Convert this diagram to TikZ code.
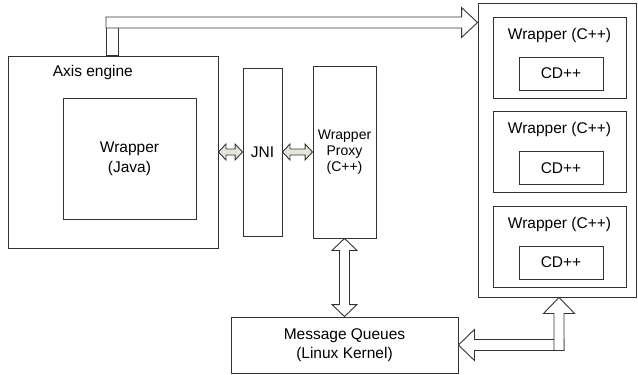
\documentclass[tikz,border=0pt]{standalone}
\usepackage{fontspec}
\setmainfont{Liberation Sans}
\usetikzlibrary{calc}

\definecolor{linkfill}{HTML}{E4E8DA}

\tikzset{
  box/.style={draw=black!80, line width=0.9pt, inner sep=0pt, align=center},
  arrowline/.style={draw=black!80, line width=0.9pt, line join=miter},
  fat arrow/.style n args={3}{to path={
    ($(\tikztostart)!#1!90:(\tikztotarget)$)
    -- ($(\tikztotarget)!#3!(\tikztostart)!#1!90:(\tikztotarget)$)
    -- ($(\tikztotarget)!#3!(\tikztostart)!#2!90:(\tikztotarget)$)
    -- (\tikztotarget)
    -- ($(\tikztotarget)!#3!(\tikztostart)!#2!-90:(\tikztotarget)$)
    -- ($(\tikztotarget)!#3!(\tikztostart)!#1!-90:(\tikztotarget)$)
    -- ($(\tikztostart)!#1!-90:(\tikztotarget)$) -- cycle}},
  fat double arrow/.style n args={3}{to path={
    (\tikztostart)
    -- ($(\tikztostart)!#3!(\tikztotarget)!#2!90:(\tikztotarget)$)
    -- ($(\tikztostart)!#3!(\tikztotarget)!#1!90:(\tikztotarget)$)
    -- ($(\tikztotarget)!#3!(\tikztostart)!#1!90:(\tikztotarget)$)
    -- ($(\tikztotarget)!#3!(\tikztostart)!#2!90:(\tikztotarget)$)
    -- (\tikztotarget)
    -- ($(\tikztotarget)!#3!(\tikztostart)!#2!-90:(\tikztotarget)$)
    -- ($(\tikztotarget)!#3!(\tikztostart)!#1!-90:(\tikztotarget)$)
    -- ($(\tikztostart)!#3!(\tikztotarget)!#1!-90:(\tikztotarget)$)
    -- ($(\tikztostart)!#3!(\tikztotarget)!#2!-90:(\tikztotarget)$) -- cycle}}
}

\begin{document}
\begin{tikzpicture}[x=1pt, y=-1pt, font=\fontsize{15.5}{20}\selectfont]
\useasboundingbox (0,0) rectangle (638,375);

\node[box, minimum width=210pt, minimum height=192pt] (axis) at (113,152) {};
\node[inner sep=0pt, anchor=west] (axislabel) at ($(axis.north west)+(45,17)$) {Axis engine};
\node[box, minimum width=133pt, minimum height=121pt] (javawrap) at (129.5,158.5) {Wrapper\\(Java)};
\node[box, minimum width=39pt, minimum height=168pt] (jni) at (262.5,152) {JNI};
\node[box, minimum width=63pt, minimum height=172pt, font=\fontsize{14}{16}\selectfont] (proxy) at (344.5,152) {Wrapper\\Proxy\\(C++)};
\node[box, minimum width=227pt, minimum height=56pt, font=\fontsize{15.5}{19}\selectfont] (queues) at (344.5,345) {Message Queues\\(Linux Kernel)};

\node[box, minimum width=158.5pt, minimum height=293.5pt] (host) at (557.25,150.25) {};
\foreach \i/\y in {1/57.5, 2/152, 3/246.5} {
  \node[box, minimum width=133pt, minimum height=81pt] (wrap\i) at (559.5,\y) {};
  \node[inner sep=0pt] (wraplabel\i) at ($(wrap\i)+(0,-22.5)$) {Wrapper (C++)};
  \node[box, minimum width=84pt, minimum height=33pt] (cd\i) at ($(wrap\i)+(1.5,16)$) {CD++};
}

\coordinate (bus) at (106,22.5);
\draw[arrowline] (bus |- axis.north) rectangle ++(12,-28);
\draw[arrowline, fill=white] (bus) to[fat arrow={5.5pt}{15pt}{16pt}] (bus -| host.west);

\draw[arrowline, fill=linkfill] (axis.east) to[fat double arrow={3pt}{8pt}{7.5pt}] (jni.west);
\draw[arrowline, fill=linkfill] (jni.east) to[fat double arrow={3pt}{8pt}{7.5pt}] (proxy.west);
\draw[arrowline, fill=white] (proxy.south) to[fat double arrow={5pt}{12.5pt}{12pt}] (queues.north);

\coordinate (turnright) at (564,345);
\coordinate (turnfoot) at (559,350.5);
\draw[arrowline, fill=white] (turnright) to[fat arrow={5.5pt}{15.5pt}{16pt}] (queues.east);
\draw[arrowline, fill=white] (turnfoot) to[fat arrow={5pt}{15.5pt}{16pt}] (turnfoot |- host.south);
\end{tikzpicture}
\end{document}
